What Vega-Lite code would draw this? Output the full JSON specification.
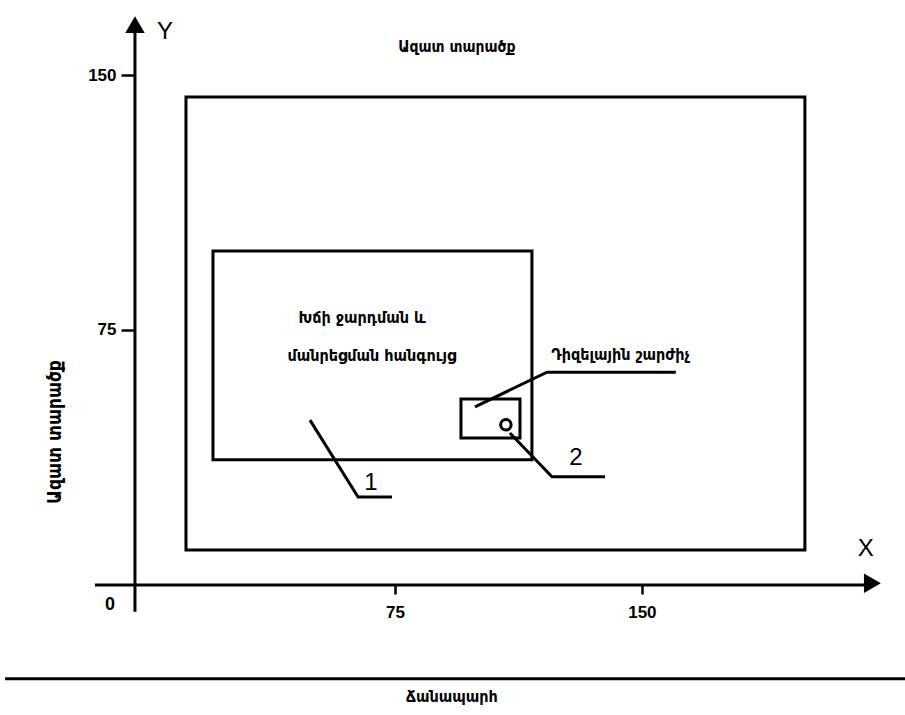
{
  "$schema": "https://vega.github.io/schema/vega-lite/v6.json",
  "width": 905,
  "height": 715,
  "padding": 0,
  "autosize": {"type": "none"},
  "background": "white",
  "config": {"view": {"stroke": null}},
  "datasets": {
    "rects": [
      {"name": "outer", "x": 11.54, "x2": 199.5, "y": 143.5, "y2": 10.3},
      {"name": "inner", "x": 19.74, "x2": 116.6, "y": 98.2, "y2": 36.8},
      {"name": "engine", "x": 95.05, "x2": 112.97, "y": 54.7, "y2": 43.2}
    ],
    "lines": [
      {"id": "yaxis", "ord": 1, "x": -3.95, "y": -7.9},
      {"id": "yaxis", "ord": 2, "x": -3.95, "y": 164},
      {"id": "xaxis", "ord": 1, "x": -16.1, "y": 0},
      {"id": "xaxis", "ord": 2, "x": 220, "y": 0},
      {"id": "road", "ord": 1, "x": -43.4, "y": -27.6},
      {"id": "road", "ord": 2, "x": 229.9, "y": -27.6},
      {"id": "lead1", "ord": 1, "x": 49.2, "y": 48.5},
      {"id": "lead1", "ord": 2, "x": 63.8, "y": 25.9},
      {"id": "lead1", "ord": 3, "x": 74.1, "y": 25.9},
      {"id": "lead2", "ord": 1, "x": 109.9, "y": 44.7},
      {"id": "lead2", "ord": 2, "x": 122.7, "y": 31.8},
      {"id": "lead2", "ord": 3, "x": 138.8, "y": 31.8},
      {"id": "lead3", "ord": 1, "x": 99.3, "y": 52.4},
      {"id": "lead3", "ord": 2, "x": 121.2, "y": 62.6},
      {"id": "lead3", "ord": 3, "x": 160.3, "y": 62.6}
    ],
    "arrowUp": [{"x": -3.95, "y": 164.8}],
    "arrowRight": [{"x": 220.0, "y": 0.5}],
    "circle": [{"x": 108.7, "y": 47.1}],
    "topLabel": [{"label": "Ազատ տարածք", "x": 93.8, "y": 158.2}],
    "innerLabels": [
      {"label": "Խճի ջարդման և", "x": 65.0, "y": 78.5},
      {"label": "մանրեցման հանգույց", "x": 68.0, "y": 67.4},
      {"label": "Դիզելային շարժիչ", "x": 143.5, "y": 67.6}
    ],
    "roadLabel": [{"label": "Ճանապարհ", "x": 92.3, "y": -32.9}],
    "sideLabel": [{"label": "Ազատ տարածք", "x": -28.2, "y": 45.0}],
    "bigLabels": [
      {"label": "Y", "x": 5.2, "y": 162.6},
      {"label": "X", "x": 218.0, "y": 10.6},
      {"label": "1", "x": 67.7, "y": 30.0},
      {"label": "2", "x": 130.0, "y": 37.4}
    ],
    "zero": [{"label": "0", "x": -11.54, "y": -5.9}]
  },
  "encoding": {
    "x": {
      "field": "x", "type": "quantitative",
      "scale": {"domain": [-44.94, 229.9], "nice": false, "zero": false},
      "axis": {
        "values": [75, 150], "offset": -130, "domain": false, "grid": false,
        "tickColor": "black", "tickSize": 9, "tickWidth": 2.5,
        "labelFont": "Liberation Sans", "labelFontWeight": "bold", "labelFontSize": 17,
        "labelColor": "black", "labelPadding": 10, "title": null
      }
    },
    "y": {
      "field": "y", "type": "quantitative",
      "scale": {"domain": [-38.24, 172.06], "nice": false, "zero": false},
      "axis": {
        "values": [75, 150], "offset": -135, "domain": false, "grid": false,
        "tickColor": "black", "tickSize": 14, "tickWidth": 2.5,
        "labelFont": "Liberation Sans", "labelFontWeight": "bold", "labelFontSize": 17,
        "labelColor": "black", "labelPadding": 5, "title": null
      }
    }
  },
  "layer": [
    {
      "data": {"name": "rects"},
      "mark": {"type": "rect", "fill": null, "fillOpacity": 0, "stroke": "black", "strokeWidth": 3},
      "encoding": {"x2": {"field": "x2"}, "y2": {"field": "y2"}}
    },
    {
      "data": {"name": "lines"},
      "mark": {"type": "line", "color": "black", "strokeWidth": 3},
      "encoding": {"detail": {"field": "id"}, "order": {"field": "ord", "type": "quantitative"}}
    },
    {
      "data": {"name": "arrowUp"},
      "mark": {"type": "point", "shape": "triangle-up", "filled": true, "color": "black", "size": 380, "opacity": 1},
      "encoding": {}
    },
    {
      "data": {"name": "arrowRight"},
      "mark": {"type": "point", "shape": "triangle-right", "filled": true, "color": "black", "size": 380, "opacity": 1},
      "encoding": {}
    },
    {
      "data": {"name": "circle"},
      "mark": {"type": "point", "shape": "circle", "filled": false, "color": "black", "strokeWidth": 3, "size": 110, "opacity": 1},
      "encoding": {}
    },
    {
      "data": {"name": "topLabel"},
      "mark": {"type": "text", "font": "DejaVu Sans Condensed", "fontWeight": "bold", "fontSize": 15.5, "color": "black", "align": "center", "baseline": "middle"},
      "encoding": {"text": {"field": "label"}}
    },
    {
      "data": {"name": "innerLabels"},
      "mark": {"type": "text", "font": "DejaVu Sans Condensed", "fontWeight": "bold", "fontSize": 16, "color": "black", "align": "center", "baseline": "middle"},
      "encoding": {"text": {"field": "label"}}
    },
    {
      "data": {"name": "roadLabel"},
      "mark": {"type": "text", "font": "DejaVu Sans Condensed", "fontWeight": "bold", "fontSize": 16, "color": "black", "align": "center", "baseline": "middle"},
      "encoding": {"text": {"field": "label"}}
    },
    {
      "data": {"name": "sideLabel"},
      "mark": {"type": "text", "font": "DejaVu Sans Condensed", "fontWeight": "bold", "fontSize": 19, "color": "black", "align": "center", "baseline": "middle", "angle": 270},
      "encoding": {"text": {"field": "label"}}
    },
    {
      "data": {"name": "bigLabels"},
      "mark": {"type": "text", "font": "Liberation Sans", "fontSize": 24, "color": "black", "align": "center", "baseline": "middle"},
      "encoding": {"text": {"field": "label"}}
    },
    {
      "data": {"name": "zero"},
      "mark": {"type": "text", "font": "Liberation Sans", "fontWeight": "bold", "fontSize": 18, "color": "black", "align": "center", "baseline": "middle"},
      "encoding": {"text": {"field": "label"}}
    }
  ]
}
